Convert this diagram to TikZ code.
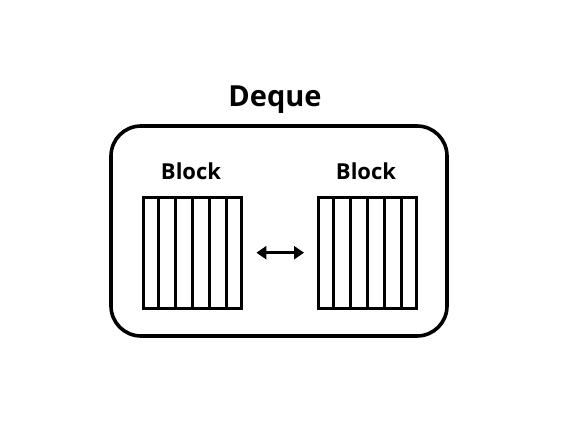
\documentclass[tikz,border=0pt]{standalone}
\usepackage{fontspec}
\setmainfont{Open Sans}
\usetikzlibrary{arrows.meta,calc}
\begin{document}
\begin{tikzpicture}[x=1pt,y=-1pt,
  outerbox/.style={draw,line width=3.6pt,rounded corners=30pt},
  blockbox/.style={draw,line width=3.4pt},
  cellline/.style={line width=3pt},
  lbl/.style={font=\bfseries\fontsize{22}{24}\selectfont},
  ttl/.style={font=\bfseries\fontsize{29}{30}\selectfont},
  link/.style={line width=2.6pt,{Triangle[length=10pt,width=13pt]}-{Triangle[length=10pt,width=13pt]}}]
\useasboundingbox (0,0) rectangle (567,425);
\fill[white] (0,0) rectangle (567,425);
\draw[outerbox] (111,126) rectangle (447,336);
\node[ttl] (title) at (275,100) {Deque};
\node[blockbox,minimum width=98pt,minimum height=111pt,inner sep=0pt,anchor=north west] (b1) at (142,196) {};
\node[blockbox,minimum width=98pt,minimum height=111pt,inner sep=0pt,anchor=north west] (b2) at (317,196) {};
\foreach \i in {1,...,5}{
  \draw[cellline] ($(b1.north west)!\i/6!(b1.north east)$) -- ($(b1.south west)!\i/6!(b1.south east)$);
  \draw[cellline] ($(b2.north west)!\i/6!(b2.north east)$) -- ($(b2.south west)!\i/6!(b2.south east)$);
}
\node[lbl] (l1) at (191,171) {Block};
\node[lbl] (l2) at (366,171) {Block};
\path (b1.east) ++(13,-0.5) coordinate (a1);
\path (b2.west) ++(-13,-0.5) coordinate (a2);
\draw[link] (a1) -- (a2);
\end{tikzpicture}
\end{document}
